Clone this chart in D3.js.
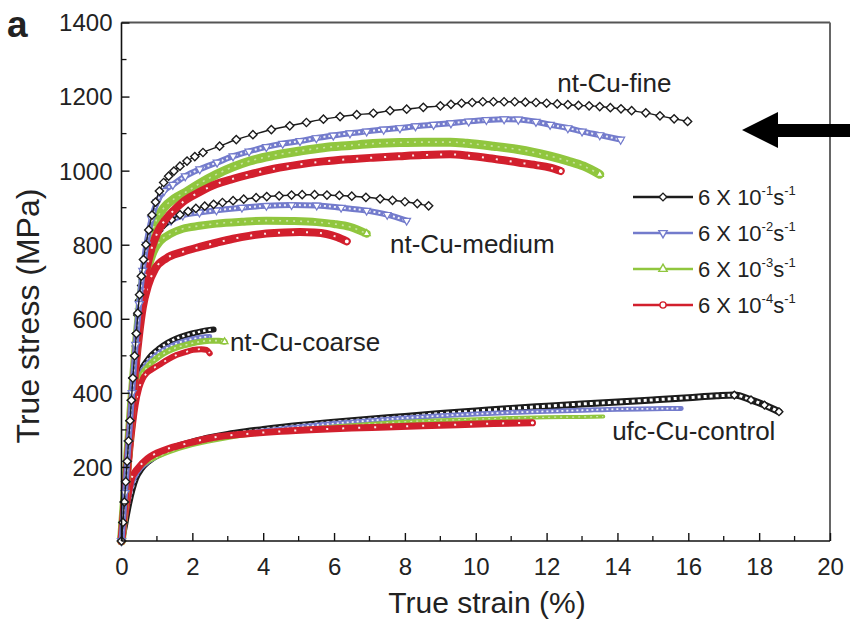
<!DOCTYPE html>
<html>
<head>
<meta charset="utf-8">
<script src="https://cdn.jsdelivr.net/npm/d3@7"></script>
<style>
  body { margin: 0; background: #fff; }
  svg { display: block; }
  text { font-family: "Liberation Sans", Arial, Helvetica, sans-serif; fill: #222; }
</style>
</head>
<body>
<svg id="chart" width="850" height="624"></svg>
<script>
// ---- Tensile curves: [true strain (%), true stress (MPa)] ----
// Suffix 1..4 = strain rate 6 X 10^-1 ... 6 X 10^-4 s^-1

const fine1 = [[0,0],[0.04,50],[0.08,105],[0.12,160],[0.16,215],[0.2,270],[0.24,325],[0.28,380],[0.32,440],[0.37,500],[0.42,560],[0.46,615],[0.51,665],[0.56,715],[0.62,760],[0.69,800],[0.77,840],[0.86,880],[0.96,915],[1.07,945],[1.19,968],[1.33,985],[1.48,999],[1.65,1012],[1.85,1026],[2.07,1038],[2.3,1049],[2.77,1066],[3.24,1084],[3.71,1097],[4.23,1111],[4.75,1121],[5.22,1130],[5.7,1139],[6.17,1146],[6.64,1151],[7.11,1155],[7.58,1162],[8.05,1166],[8.52,1171],[9.0,1175],[9.3,1179],[9.6,1182],[9.9,1184],[10.2,1186],[10.5,1186],[10.8,1186],[11.1,1186],[11.4,1185],[11.7,1184],[12.0,1182],[12.3,1180],[12.6,1178],[12.9,1176],[13.2,1175],[13.5,1173],[13.8,1170],[14.1,1167],[14.4,1162],[14.8,1156],[15.2,1148],[15.6,1140],[15.98,1133]];
const fine2 = [[0,0],[0.1,130],[0.2,265],[0.3,400],[0.4,530],[0.5,640],[0.6,730],[0.7,800],[0.85,870],[1.0,915],[1.2,945],[1.45,962],[1.8,985],[2.21,1004],[2.7,1022],[3.15,1039],[3.6,1052],[4.09,1064],[4.55,1073],[5.04,1080],[5.5,1088],[5.98,1095],[6.45,1101],[6.92,1106],[7.4,1111],[7.86,1115],[8.3,1120],[8.81,1124],[9.3,1128],[9.8,1133],[10.3,1137],[10.8,1139],[11.2,1138],[11.7,1132],[12.1,1124],[12.6,1115],[13.0,1106],[13.5,1096],[14.09,1084]];
const fine3 = [[0,0],[0.1,130],[0.2,260],[0.3,390],[0.4,510],[0.5,610],[0.6,695],[0.7,760],[0.85,830],[1.0,870],[1.2,900],[1.5,925],[1.83,943],[2.2,965],[2.68,990],[3.15,1010],[3.62,1026],[4.3,1041],[5.04,1053],[5.7,1062],[6.45,1068],[7.1,1073],[7.86,1076],[8.5,1077],[9.28,1077],[9.75,1074],[10.5,1066],[11.2,1057],[11.6,1050],[12.1,1039],[12.6,1026],[13.05,1012],[13.5,990]];
const fine4 = [[0,0],[0.1,120],[0.2,245],[0.3,370],[0.4,490],[0.5,590],[0.6,670],[0.7,730],[0.85,790],[1.0,830],[1.26,870],[1.5,895],[1.73,915],[2.2,942],[2.68,964],[3.15,978],[3.62,990],[4.3,1005],[5.04,1017],[5.7,1025],[6.45,1031],[7.1,1035],[7.86,1039],[8.5,1042],[9.28,1044],[9.75,1041],[10.5,1032],[11.2,1022],[11.7,1015],[12.1,1008],[12.4,999]];

const medium1 = [[0,0],[0.04,50],[0.08,105],[0.12,160],[0.16,215],[0.2,270],[0.24,325],[0.28,380],[0.32,440],[0.37,500],[0.42,560],[0.46,610],[0.51,650],[0.57,690],[0.64,728],[0.72,762],[0.82,793],[0.93,818],[1.05,838],[1.2,855],[1.41,868],[1.65,881],[1.88,890],[2.1,898],[2.35,904],[2.6,909],[2.85,914],[3.15,919],[3.45,923],[3.8,927],[4.1,930],[4.45,932],[4.8,934],[5.1,935],[5.45,935],[5.8,934],[6.15,933],[6.5,931],[6.9,928],[7.3,924],[7.65,920],[8.0,916],[8.35,911],[8.67,905]];
const medium2 = [[0,0],[0.1,130],[0.2,265],[0.3,395],[0.4,520],[0.5,620],[0.6,700],[0.75,770],[0.9,815],[1.1,845],[1.4,865],[1.73,879],[2.2,887],[2.68,893],[3.4,900],[4.09,905],[4.8,907],[5.51,906],[6.2,900],[6.92,892],[7.5,881],[8.05,865]];
const medium3 = [[0,0],[0.1,125],[0.2,255],[0.3,380],[0.4,495],[0.5,590],[0.6,665],[0.75,735],[0.9,780],[1.1,810],[1.4,830],[1.73,843],[2.2,851],[2.68,857],[3.4,862],[4.09,865],[4.8,864],[5.51,861],[6.0,856],[6.45,848],[6.92,830]];
const medium4 = [[0,0],[0.1,115],[0.2,240],[0.3,360],[0.4,470],[0.5,560],[0.6,630],[0.75,690],[0.95,735],[1.26,763],[1.7,780],[2.21,794],[2.7,806],[3.15,816],[3.6,824],[4.09,830],[4.6,833],[5.04,834],[5.45,833],[5.79,829],[6.1,820],[6.36,809]];

const coarse1 = [[0,0],[0.1,115],[0.2,225],[0.3,325],[0.4,400],[0.5,445],[0.6,470],[0.7,484],[0.85,502],[1.07,520],[1.3,535],[1.55,547],[1.8,555],[2.02,561],[2.25,566],[2.49,570],[2.6,571]];
const coarse2 = [[0,0],[0.1,110],[0.2,218],[0.3,315],[0.4,390],[0.5,437],[0.6,462],[0.7,476],[0.85,492],[1.07,509],[1.3,522],[1.55,533],[1.8,541],[2.02,546],[2.25,550],[2.49,552]];
const coarse3 = [[0,0],[0.1,105],[0.2,210],[0.3,305],[0.4,380],[0.5,428],[0.6,453],[0.7,466],[0.85,482],[1.07,499],[1.3,512],[1.55,522],[1.8,529],[2.1,536],[2.49,541],[2.75,541],[2.91,538]];
const coarse4 = [[0,0],[0.1,100],[0.2,200],[0.3,295],[0.4,368],[0.5,413],[0.6,438],[0.7,452],[0.85,463],[1.07,476],[1.3,490],[1.55,502],[1.8,510],[2.02,516],[2.25,518],[2.4,516],[2.49,507]];

const control1 = [[0,0],[0.1,50],[0.2,100],[0.3,140],[0.4,170],[0.55,195],[0.75,215],[1.0,232],[1.5,253],[2,267],[2.5,279],[3,288],[3.5,295],[4,301],[5,312],[6,321],[7,329],[8,336],[9,344],[10,351],[11,358],[12,364],[13,370],[14,375],[15,381],[16,387],[16.8,392],[17.3,394],[17.77,381],[18.15,367],[18.56,349]];
const control2 = [[0,0],[0.1,60],[0.2,115],[0.3,155],[0.45,185],[0.7,210],[1,228],[1.5,249],[2,263],[3,283],[4,297],[5,308],[6,317],[7,325],[8,332],[9,338],[10,343],[11,347],[12,350],[13,353],[14,356],[15,357],[15.8,358]];
const control3 = [[0,0],[0.08,70],[0.16,125],[0.26,160],[0.4,185],[0.65,208],[1,226],[1.5,245],[2,259],[3,278],[4,291],[5,301],[6,309],[7,316],[8,322],[9,326],[10,329],[11,332],[12,334],[13,335],[13.6,336]];
const control4 = [[0,0],[0.08,57],[0.18,120],[0.27,165],[0.46,196],[0.74,223],[1.22,246],[1.88,264],[2.63,280],[3.5,289],[4.5,296],[5.5,301],[6.5,305],[7.5,308],[8.5,311],[9.5,314],[10.5,317],[11.6,319]];

// ---- Axis ticks, legend and curve labels ----
const strainTicks = [0, 2, 4, 6, 8, 10, 12, 14, 16, 18, 20];
const strainMinor = [1, 3, 5, 7, 9, 11, 13, 15, 17, 19];
const stressTicks = [200, 400, 600, 800, 1000, 1200, 1400];
const stressMinor = [100, 300, 500, 700, 900, 1100, 1300];
const rateExponents = ["-1", "-2", "-3", "-4"];
const rateColors = ["#1c1c1c", "#737bcc", "#90c63e", "#d21f2d"];
const rateSymbols = ["diamond", "triangleDown", "triangleUp", "circle"];
const curveLabels = ["nt-Cu-fine", "nt-Cu-medium", "nt-Cu-coarse", "ufc-Cu-control"];
const curveLabelAt = [[12.3, 1212], [7.58, 778], [3.06, 513], [13.85, 273]];

const svg = d3.select("#chart");
const x = d3.scaleLinear().domain([0, 20]).range([121.5, 830]);
const y = d3.scaleLinear().domain([0, 1400]).range([541, 22.5]);

const line = d3.line()
  .x(d => x(d[0]))
  .y(d => y(d[1]))
  .curve(d3.curveMonotoneX);

function symbolPath(kind, size) {
  if (kind === "diamond") return { d: d3.symbol(d3.symbolSquare, size)(), rot: 45 };
  if (kind === "triangleDown") return { d: d3.symbol(d3.symbolTriangle, size)(), rot: 180 };
  if (kind === "triangleUp") return { d: d3.symbol(d3.symbolTriangle, size)(), rot: 0 };
  return { d: d3.symbol(d3.symbolCircle, size)(), rot: 0 };
}

function drawMarkers(g, pts, k, size, sw) {
  const s = symbolPath(rateSymbols[k], size);
  g.selectAll(null).data(pts).enter().append("path")
    .attr("d", s.d)
    .attr("transform", d => `translate(${x(d[0])},${y(d[1])}) rotate(${s.rot})`)
    .attr("fill", "#fff")
    .attr("stroke", rateColors[k])
    .attr("stroke-width", sw);
}

// band = packed open symbols: a thick coloured stroke with white holes
function drawBand(g, data, k, width, holeW, holeDash, holeOpacity) {
  g.append("path").datum(data)
    .attr("d", line).attr("fill", "none")
    .attr("stroke", rateColors[k]).attr("stroke-width", width)
    .attr("stroke-linecap", "round").attr("stroke-linejoin", "round");
  if (holeW > 0) {
    g.append("path").datum(data)
      .attr("d", line).attr("fill", "none")
      .attr("stroke", "#fff").attr("stroke-opacity", holeOpacity)
      .attr("stroke-width", holeW)
      .attr("stroke-dasharray", holeDash);
  }
}

function drawOpen(g, data, k) {
  g.append("path").datum(data)
    .attr("d", line).attr("fill", "none")
    .attr("stroke", rateColors[k]).attr("stroke-width", 1.4);
  drawMarkers(g, data, k, 34, 1.4);
}

const plot = svg.append("g");

// ufc-Cu-control
{
  const g = plot.append("g");
  drawBand(g, control1, 0, 7, 3, "3,3", 1);
  drawMarkers(g, control1.slice(-4), 0, 30, 1.4);
  drawBand(g, control2, 1, 5, 1.8, "2,3", 0.9);
  drawBand(g, control3, 2, 4, 1.2, "2,4", 0.6);
  drawBand(g, control4, 3, 7, 2, "2,14", 0.9);
  drawMarkers(g, control4.slice(-1), 3, 18, 1.4);
}
// nt-Cu-coarse
{
  const g = plot.append("g");
  drawBand(g, coarse1, 0, 6, 2.4, "2.4,3", 1);
  drawBand(g, coarse2, 1, 5, 1.8, "2,3", 0.9);
  drawBand(g, coarse3, 2, 6, 1.6, "2,4", 0.6);
  drawMarkers(g, coarse3.slice(-1), 2, 20, 1.3);
  drawBand(g, coarse4, 3, 6, 1.8, "2,10", 0.9);
}
// nt-Cu-medium
{
  const g = plot.append("g");
  drawBand(g, medium3, 2, 8, 1.6, "2,5", 0.5);
  drawMarkers(g, medium3.slice(-1), 2, 22, 1.3);
  drawBand(g, medium4, 3, 8, 2, "2,12", 0.9);
  drawMarkers(g, medium4.slice(-1), 3, 22, 1.4);
  drawBand(g, medium2, 1, 6, 2, "2,3", 0.9);
  drawMarkers(g, medium2, 1, 26, 1.2);
  drawOpen(g, medium1, 0);
}
// nt-Cu-fine
{
  const g = plot.append("g");
  drawBand(g, fine3, 2, 9, 1.6, "2,5", 0.5);
  drawMarkers(g, fine3.slice(-1), 2, 22, 1.3);
  drawBand(g, fine4, 3, 8, 2, "2,12", 0.9);
  drawMarkers(g, fine4.slice(-1), 3, 22, 1.4);
  drawBand(g, fine2, 1, 6, 2, "2,3", 0.9);
  drawMarkers(g, fine2, 1, 28, 1.2);
  drawOpen(g, fine1, 0);
}

// ---- Frame and axes ----
const frame = svg.append("g");
frame.append("line").attr("x1", x(0)).attr("x2", x(20)).attr("y1", y(1400)).attr("y2", y(1400))
  .attr("stroke", "#555").attr("stroke-width", 2);
frame.append("line").attr("x1", x(20)).attr("x2", x(20)).attr("y1", y(1400)).attr("y2", y(0))
  .attr("stroke", "#666").attr("stroke-width", 2);

const xAxis = svg.append("g").attr("transform", `translate(0,${y(0)})`)
  .call(d3.axisBottom(x).tickValues(strainTicks).tickSize(-8).tickPadding(17).tickFormat(d3.format("d")));
const yAxis = svg.append("g").attr("transform", `translate(${x(0)},0)`)
  .call(d3.axisLeft(y).tickValues(stressTicks).tickSize(-8).tickPadding(9).tickFormat(d3.format("d")));

[xAxis, yAxis].forEach(a => {
  a.select(".domain").attr("stroke", "#111").attr("stroke-width", 1.6);
  a.selectAll(".tick line").attr("stroke", "#111").attr("stroke-width", 1.4);
  a.selectAll(".tick text").attr("font-size", 24).attr("fill", "#2a2a2a")
    .attr("font-family", '"Liberation Sans", Arial, sans-serif');
});
yAxis.select(".domain").attr("d", `M0,${y(0)}V${y(1400)}`);
xAxis.select(".domain").attr("d", `M${x(0)},0H${x(20)}`);
xAxis.selectAll(".tick text").attr("dy", "0.71em");
yAxis.selectAll(".tick text").attr("dy", "0.35em");

svg.append("g").selectAll(null).data(strainMinor).enter().append("line")
  .attr("x1", d => x(d)).attr("x2", d => x(d)).attr("y1", y(0)).attr("y2", y(0) - 5)
  .attr("stroke", "#111").attr("stroke-width", 1.3);
svg.append("g").selectAll(null).data(stressMinor).enter().append("line")
  .attr("x1", x(0)).attr("x2", x(0) + 5).attr("y1", d => y(d)).attr("y2", d => y(d))
  .attr("stroke", "#111").attr("stroke-width", 1.3);

// axis titles
svg.append("text").attr("x", 487).attr("y", 613)
  .attr("text-anchor", "middle").attr("font-size", 30).text("True strain (%)");
svg.append("text").attr("transform", "translate(39,316) rotate(-90)")
  .attr("text-anchor", "middle").attr("font-size", 32).text("True stress (MPa)");

// panel letter
svg.append("text").attr("x", 7).attr("y", 37).attr("font-size", 37).attr("font-weight", "bold")
  .attr("fill", "#111").text("a");

// curve labels
svg.append("g").selectAll(null).data(curveLabels).enter().append("text")
  .attr("x", (d, i) => x(curveLabelAt[i][0]))
  .attr("y", (d, i) => y(curveLabelAt[i][1]))
  .attr("font-size", 26).text(d => d);

// legend
const legend = svg.append("g");
rateExponents.forEach((e, i) => {
  const cy = 197 + i * 36;
  const row = legend.append("g");
  row.append("line").attr("x1", 633).attr("x2", 693).attr("y1", cy).attr("y2", cy)
    .attr("stroke", rateColors[i]).attr("stroke-width", 2.6);
  const s = symbolPath(rateSymbols[i], 30);
  row.append("path").attr("d", s.d)
    .attr("transform", `translate(663,${cy}) rotate(${s.rot})`)
    .attr("fill", "#fff").attr("stroke", rateColors[i]).attr("stroke-width", 1.4);
  const t = row.append("text").attr("x", 698).attr("y", cy + 8).attr("font-size", 22);
  t.append("tspan").text("6 X 10");
  t.append("tspan").attr("dy", -10).attr("font-size", 13).text(e);
  t.append("tspan").attr("dy", 10).text("s");
  t.append("tspan").attr("dy", -10).attr("font-size", 13).text("-1");
});

// arrow pointing at the fine-grained curves
svg.append("path")
  .attr("d", "M742,130 L778,112 L778,124 L850,124 L850,137 L778,137 L778,148 Z")
  .attr("fill", "#000");
</script>
</body>
</html>
